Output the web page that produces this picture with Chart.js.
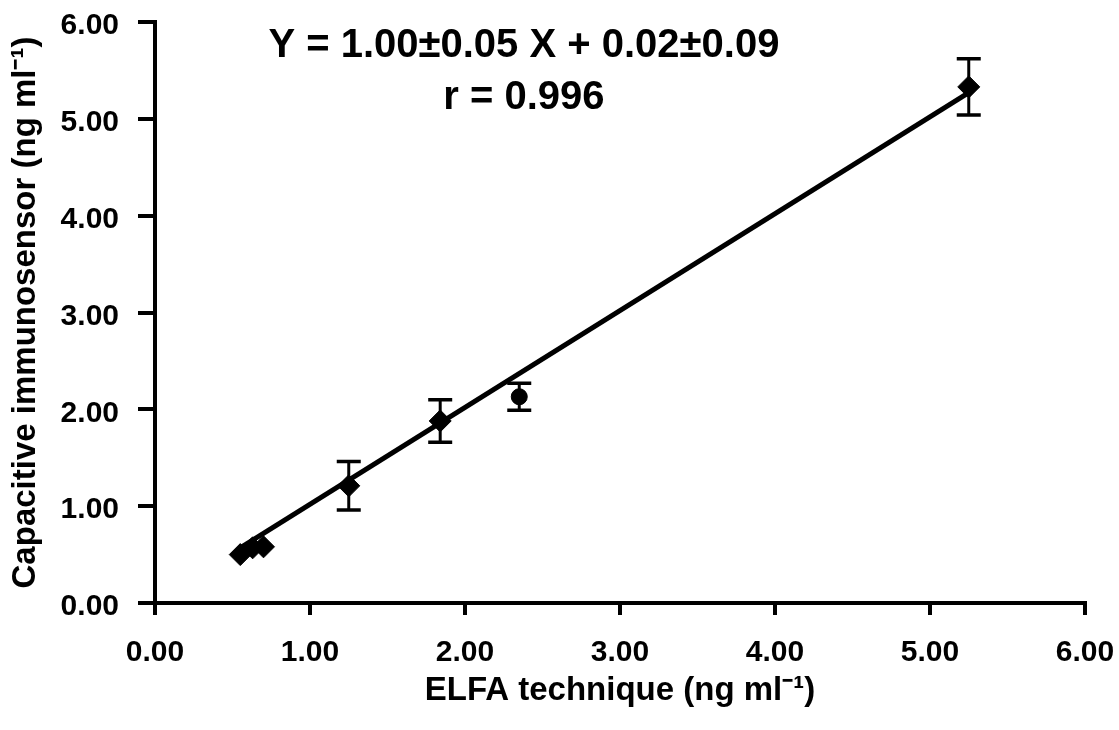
<!DOCTYPE html>
<html>
<head>
<meta charset="utf-8">
<script src="https://cdn.jsdelivr.net/npm/chart.js@4"></script>
<style>
  body { margin: 0; background: #fff; }
  canvas { display: block; }
</style>
</head>
<body>
<canvas id="chartElfa" width="1119" height="730"></canvas>
<script>
// ELFA vs capacitive immunosensor
const elfaValues = [0.55, 0.63, 0.70, 1.25, 1.84, 2.35, 5.25];
const sensorValues = [0.50, 0.57, 0.58, 1.21, 1.88, 2.13, 5.33];
const sensorErrors = [0, 0, 0, 0.25, 0.22, 0.14, 0.29];
const markerStyles = ['rectRot', 'rectRot', 'rectRot', 'rectRot', 'rectRot', 'circle', 'rectRot'];

// regression reported on the plot
const slope = 1.00;
const intercept = 0.02;
const fitLabel = 'Y = 1.00\u00b10.05 X + 0.02\u00b10.09';
const corrLabel = 'r = 0.996';

const axisTicks = [0, 1, 2, 3, 4, 5, 6];

const FONT = '"Liberation Sans", Arial, sans-serif';

const xMin = Math.min(...elfaValues);
const xMax = Math.max(...elfaValues);
const fitLine = [
   { x: xMin, y: slope * xMin + intercept },
   { x: xMax, y: slope * xMax + intercept }
];

// error bars + equation text
const extras = {
   id: 'extras',
   afterDatasetsDraw(chart) {
      const { ctx, scales: { x, y } } = chart;
      ctx.save();
      ctx.strokeStyle = '#000';
      elfaValues.forEach((v, i) => {
         if (!sensorErrors[i]) return;
         const px = x.getPixelForValue(v);
         const top = y.getPixelForValue(sensorValues[i] + sensorErrors[i]);
         const bot = y.getPixelForValue(sensorValues[i] - sensorErrors[i]);
         ctx.lineWidth = 3;
         ctx.beginPath();
         ctx.moveTo(px, top);
         ctx.lineTo(px, bot);
         ctx.stroke();
         ctx.lineWidth = 3.5;
         ctx.beginPath();
         ctx.moveTo(px - 12, top);
         ctx.lineTo(px + 12, top);
         ctx.moveTo(px - 12, bot);
         ctx.lineTo(px + 12, bot);
         ctx.stroke();
      });
      ctx.fillStyle = '#000';
      ctx.textAlign = 'center';
      ctx.textBaseline = 'middle';
      ctx.font = 'bold 40px ' + FONT;
      ctx.fillText(fitLabel, x.getPixelForValue(2.38), y.getPixelForValue(5.75));
      ctx.fillText(corrLabel, x.getPixelForValue(2.38), y.getPixelForValue(5.22));
      ctx.restore();
   }
};

const whiteBg = {
   id: 'whiteBg',
   beforeDraw(chart) {
      const ctx = chart.ctx;
      ctx.save();
      ctx.fillStyle = '#fff';
      ctx.fillRect(0, 0, chart.width, chart.height);
      ctx.restore();
   }
};

new Chart(document.getElementById('chartElfa'), {
   type: 'scatter',
   data: {
      datasets: [
         {
            label: 'Fit',
            type: 'line',
            data: fitLine,
            borderColor: '#000',
            borderWidth: 5,
            pointRadius: 0,
            fill: false,
            order: 2
         },
         {
            label: 'Samples',
            data: elfaValues.map((v, i) => ({ x: v, y: sensorValues[i] })),
            backgroundColor: '#000',
            borderColor: '#000',
            pointStyle: markerStyles,
            pointRadius: markerStyles.map(s => s === 'circle' ? 8 : 11),
            order: 1
         }
      ]
   },
   options: {
      responsive: false,
      animation: false,
      layout: { padding: { top: 22, right: 34, left: 0, bottom: 0 } },
      plugins: { legend: { display: false }, tooltip: { enabled: false } },
      scales: {
         x: {
            type: 'linear',
            min: 0,
            max: 6,
            afterBuildTicks: s => { s.ticks = axisTicks.map(v => ({ value: v })); },
            afterFit: s => {
               s.height = 127;
               s.paddingLeft = 0;
               s.paddingRight = 0;
            },
            grid: { drawOnChartArea: false, color: '#000', lineWidth: 4, tickLength: 12 },
            border: { color: '#000', width: 4 },
            ticks: {
               color: '#000',
               padding: 20,
               font: { family: FONT, size: 30, weight: 'bold' },
               callback: v => v.toFixed(2)
            },
            title: {
               display: true,
               text: 'ELFA technique (ng ml\u207b\u00b9)',
               color: '#000',
               padding: { top: 0, bottom: 19 },
               font: { family: FONT, size: 33, weight: 'bold' }
            }
         },
         y: {
            type: 'linear',
            min: 0,
            max: 6,
            afterBuildTicks: s => { s.ticks = axisTicks.map(v => ({ value: v })); },
            afterFit: s => {
               s.width = 155;
               s.paddingTop = 0;
               s.paddingBottom = 0;
            },
            grid: { drawOnChartArea: false, color: '#000', lineWidth: 4, tickLength: 17 },
            border: { color: '#000', width: 4 },
            ticks: {
               color: '#000',
               padding: 19,
               labelOffset: 4,
               font: { family: FONT, size: 30, weight: 'bold' },
               callback: v => v.toFixed(2)
            },
            title: {
               display: true,
               text: 'Capacitive immunosensor (ng ml\u207b\u00b9)',
               color: '#000',
               padding: { top: 6, bottom: 0 },
               font: { family: FONT, size: 33, weight: 'bold' }
            }
         }
      }
   },
   plugins: [whiteBg, extras]
});
</script>
</body>
</html>
